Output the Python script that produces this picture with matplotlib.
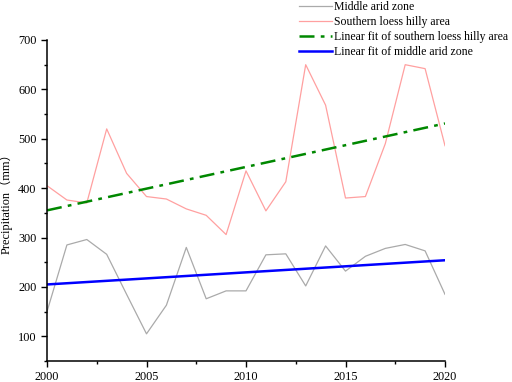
import matplotlib.pyplot as plt
from matplotlib.ticker import MultipleLocator

years = list(range(2000, 2021))
southern = [405, 376, 370, 520, 430, 383, 378, 358, 345, 306, 435,
            354, 413, 650, 568, 380, 383, 490, 650, 642, 486]
middle = [150, 285, 296, 266, 185, 105, 163, 280, 176, 192, 192,
          265, 267, 202, 283, 232, 262, 278, 286, 273, 185]
fit_years = [2000, 2020]
fit_southern = [355, 531]
fit_middle = [205, 254]

plt.rcParams['font.family'] = ['Liberation Serif', 'Noto Sans CJK SC']
plt.rcParams['font.size'] = 8.8

fig = plt.figure(figsize=(5.12, 3.82), dpi=100)
ax = fig.add_axes([47 / 512, 1 - 361 / 382, 398 / 512, 321 / 382])

ax.plot(years, middle, color='#aaaaaa', lw=0.9, label='Middle arid zone')
ax.plot(years, southern, color='#ffa0a0', lw=0.9, label='Southern loess hilly area')
ax.plot(fit_years, fit_southern, color='#008800', lw=1.8, linestyle=(0, (6, 2.5, 1.5, 2.5)),
        label='Linear fit of southern loess hilly area')
ax.plot(fit_years, fit_middle, color='#0000ff', lw=1.8, label='Linear fit of middle arid zone')

ax.set_xlim(2000, 2020)
ax.set_ylim(50, 700)
ax.xaxis.set_major_locator(MultipleLocator(5))
ax.xaxis.set_minor_locator(MultipleLocator(2.5))
ax.yaxis.set_minor_locator(MultipleLocator(50))
ax.set_yticks(range(100, 701, 100))
ax.tick_params(which='major', direction='out', length=4, width=1, labelsize=8.8)
ax.tick_params(which='minor', direction='out', length=2.5, width=1)
for s in ['top', 'right']:
    ax.spines[s].set_visible(False)
for s in ['left', 'bottom']:
    ax.spines[s].set_linewidth(1.1)
ax.set_ylabel('Precipitation（mm）', fontsize=8.8, labelpad=4)

fig.legend(loc='upper left', bbox_to_anchor=(294 / 512, 1.01), frameon=False,
           handlelength=2.8, handletextpad=0.15, labelspacing=0.25, borderaxespad=0,
           fontsize=8.5)

fig.savefig('out.png', dpi=100)
